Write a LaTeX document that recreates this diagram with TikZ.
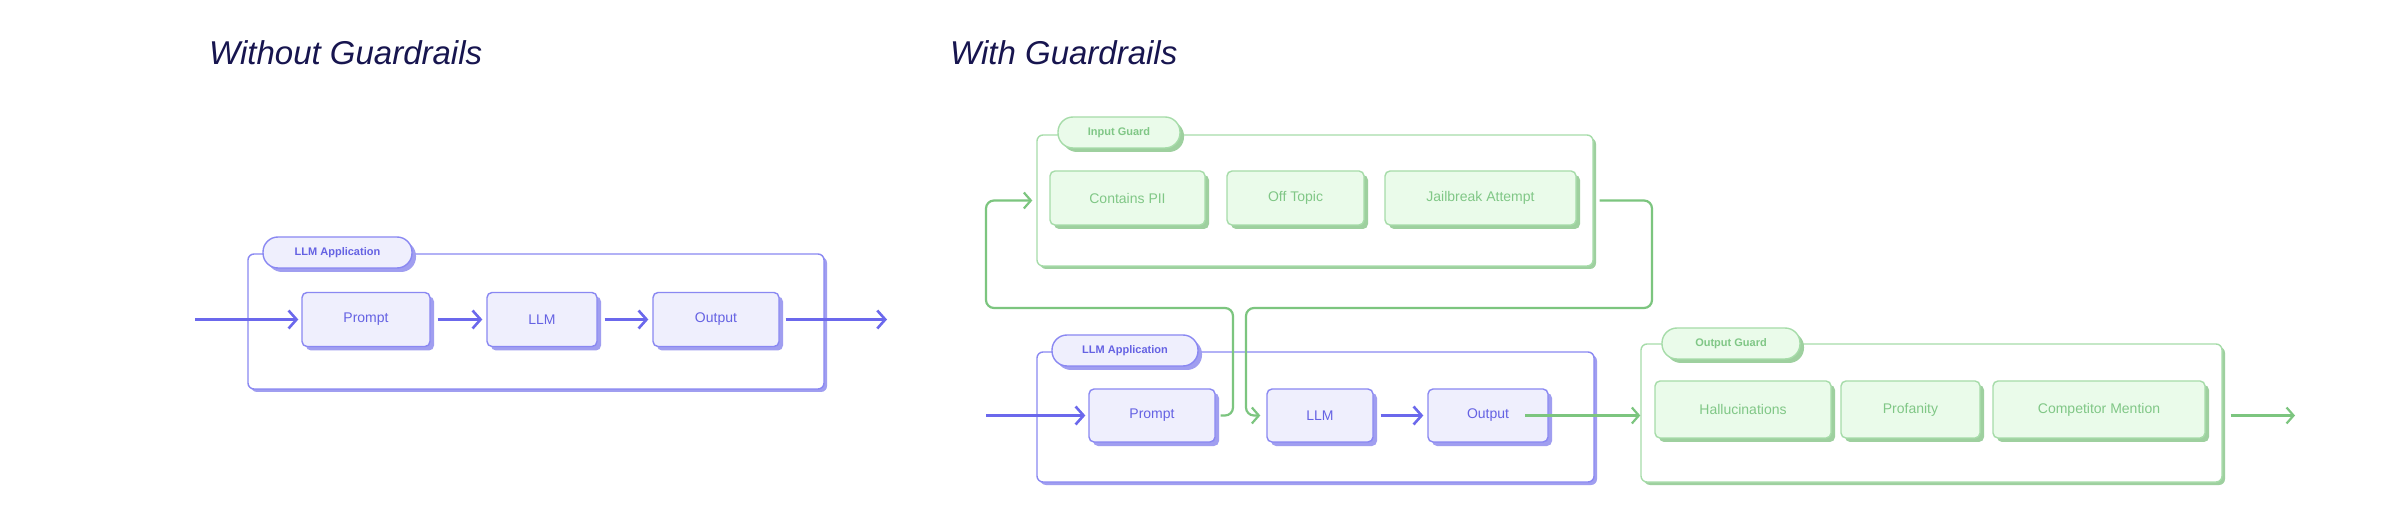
\documentclass[tikz,border=0pt]{standalone}
\usepackage{fontspec}
\setmainfont{Liberation Sans}
\usetikzlibrary{arrows.meta,shadows,calc}
\definecolor{bstroke}{HTML}{8A88F2}
\definecolor{bfill}{HTML}{EFEFFD}
\definecolor{bshadow}{HTML}{A09EF0}
\definecolor{btext}{HTML}{6562E3}
\definecolor{barrow}{HTML}{6B68EC}
\definecolor{gstroke}{HTML}{A6DCA9}
\definecolor{gfill}{HTML}{EAFBEA}
\definecolor{gshadow}{HTML}{9ED09F}
\definecolor{gtext}{HTML}{80C786}
\definecolor{garrow}{HTML}{7CC57F}
\definecolor{tcol}{HTML}{17154F}
\begin{document}
\begin{tikzpicture}[x=1pt,y=-1pt,
  box/.style={rectangle, rounded corners=5pt, line width=1.4pt, inner sep=0pt,
    font=\fontsize{14}{16}\selectfont},
  bbox/.style={box, draw=bstroke, fill=bfill, text=btext,
    drop shadow={shadow xshift=4pt, shadow yshift=-4pt, fill=bshadow, opacity=1}},
  gbox/.style={box, draw=gstroke, fill=gfill, text=gtext,
    drop shadow={shadow xshift=4pt, shadow yshift=-4pt, fill=gshadow, opacity=1}},
  frame/.style={rectangle, rounded corners=6pt, line width=1.4pt, fill=white, inner sep=0pt},
  bframe/.style={frame, draw=bstroke,
    drop shadow={shadow xshift=3pt, shadow yshift=-3pt, fill=bshadow, opacity=1}},
  gframe/.style={frame, draw=gstroke,
    drop shadow={shadow xshift=3pt, shadow yshift=-3pt, fill=gshadow, opacity=1}},
  pill/.style={rectangle, rounded corners=15pt, line width=1.4pt, inner sep=0pt,
    minimum height=31pt, font=\fontsize{11}{13}\selectfont\bfseries},
  bpill/.style={pill, draw=bstroke, fill=bfill, text=btext,
    drop shadow={shadow xshift=4pt, shadow yshift=-4pt, fill=bshadow, opacity=1}},
  gpill/.style={pill, draw=gstroke, fill=gfill, text=gtext,
    drop shadow={shadow xshift=4pt, shadow yshift=-4pt, fill=gshadow, opacity=1}},
  barr/.style={draw=barrow, line width=2.6pt, -{Straight Barb[length=8pt,width=18pt]}},
  garr/.style={draw=garrow, line width=2.2pt, rounded corners=8pt,
    -{Straight Barb[length=7pt,width=16pt]}},
  title/.style={font=\fontsize{33}{38}\selectfont\itshape, text=tcol, inner sep=0pt, anchor=base west}
]
\useasboundingbox[fill=white] (0,0) rectangle (2402,518);

% titles
\node[title] (t1) at (209,65) {Without Guardrails};
\node[title] (t2) at (950,65) {With Guardrails};

% ---------- left: without guardrails ----------
\node[bframe, minimum width=576pt, minimum height=135pt] (appL) at (536,321.5) {};
\node[bpill, minimum width=149pt] (pillL) at (337.5,252.5) {LLM Application};
\node[bbox, minimum width=128pt, minimum height=54pt] (pL) at (366,319.5) {Prompt};
\node[bbox, minimum width=110pt, minimum height=54pt] (lL) at (542,319.5) {LLM};
\node[bbox, minimum width=126pt, minimum height=54pt] (oL) at (716,319.5) {Output};
\coordinate (inL) at (195,319.5);
\coordinate (outL) at (887,319.5);
\draw[barr] (inL) -- ([xshift=-3pt]pL.west);
\draw[barr] ([xshift=7pt]pL.east) -- ([xshift=-4pt]lL.west);
\draw[barr] ([xshift=7pt]lL.east) -- ([xshift=-4pt]oL.west);
\draw[barr] ([xshift=6pt]oL.east) -- (outL);

% ---------- right: with guardrails ----------
\node[gframe, minimum width=556pt, minimum height=131pt] (IG) at (1315,200.5) {};
\node[gpill, minimum width=122pt] (pillIG) at (1119,132.5) {Input Guard};
\node[gbox, minimum width=155pt, minimum height=54pt] (pii) at (1127.5,198) {Contains PII};
\node[gbox, minimum width=137pt, minimum height=54pt] (off) at (1295.5,198) {Off Topic};
\node[gbox, minimum width=191pt, minimum height=54pt] (jb) at (1480.5,198) {Jailbreak Attempt};

\node[bframe, minimum width=557pt, minimum height=130pt] (appR) at (1315.5,417) {};
\node[bpill, minimum width=146pt] (pillR) at (1125,350.5) {LLM Application};
\node[bbox, minimum width=126pt, minimum height=53pt] (pR) at (1152,415.5) {Prompt};
\node[bbox, minimum width=106pt, minimum height=53pt] (lR) at (1320,415.5) {LLM};
\node[bbox, minimum width=120pt, minimum height=53pt] (oR) at (1488,415.5) {Output};

\node[gframe, minimum width=581pt, minimum height=138pt] (OG) at (1931.5,413) {};
\node[gpill, minimum width=138pt] (pillOG) at (1731,343.5) {Output Guard};
\node[gbox, minimum width=176pt, minimum height=57pt] (hal) at (1743,409.5) {Hallucinations};
\node[gbox, minimum width=139pt, minimum height=57pt] (prof) at (1910.5,409.5) {Profanity};
\node[gbox, minimum width=212pt, minimum height=57pt] (comp) at (2099,409.5) {Competitor Mention};

\coordinate (inR) at (986,415.5);
\coordinate (a1) at (1233,308);
\coordinate (a2) at (986,308);
\coordinate (b1) at (1652,308);
\coordinate (b2) at (1246,308);
\coordinate (outR) at (2295,415.5);

\draw[barr] (inR) -- ([xshift=-3pt]pR.west);
\draw[barr] ([xshift=7pt]lR.east) -- ([xshift=-4pt]oR.west);

\draw[garr] ([xshift=5pt]pR.east) -| (a1) -- (a2) |- ([xshift=-4pt]IG.west);
\draw[garr] ([xshift=6pt]IG.east) -| (b1) -- (b2) |- ([xshift=-6pt]lR.west);
\draw[garr] ([xshift=37pt]oR.center) -- (oR.center -| OG.west);
\draw[garr] ($(outR -| OG.east)+(8,0)$) -- (outR);
\end{tikzpicture}
\end{document}
